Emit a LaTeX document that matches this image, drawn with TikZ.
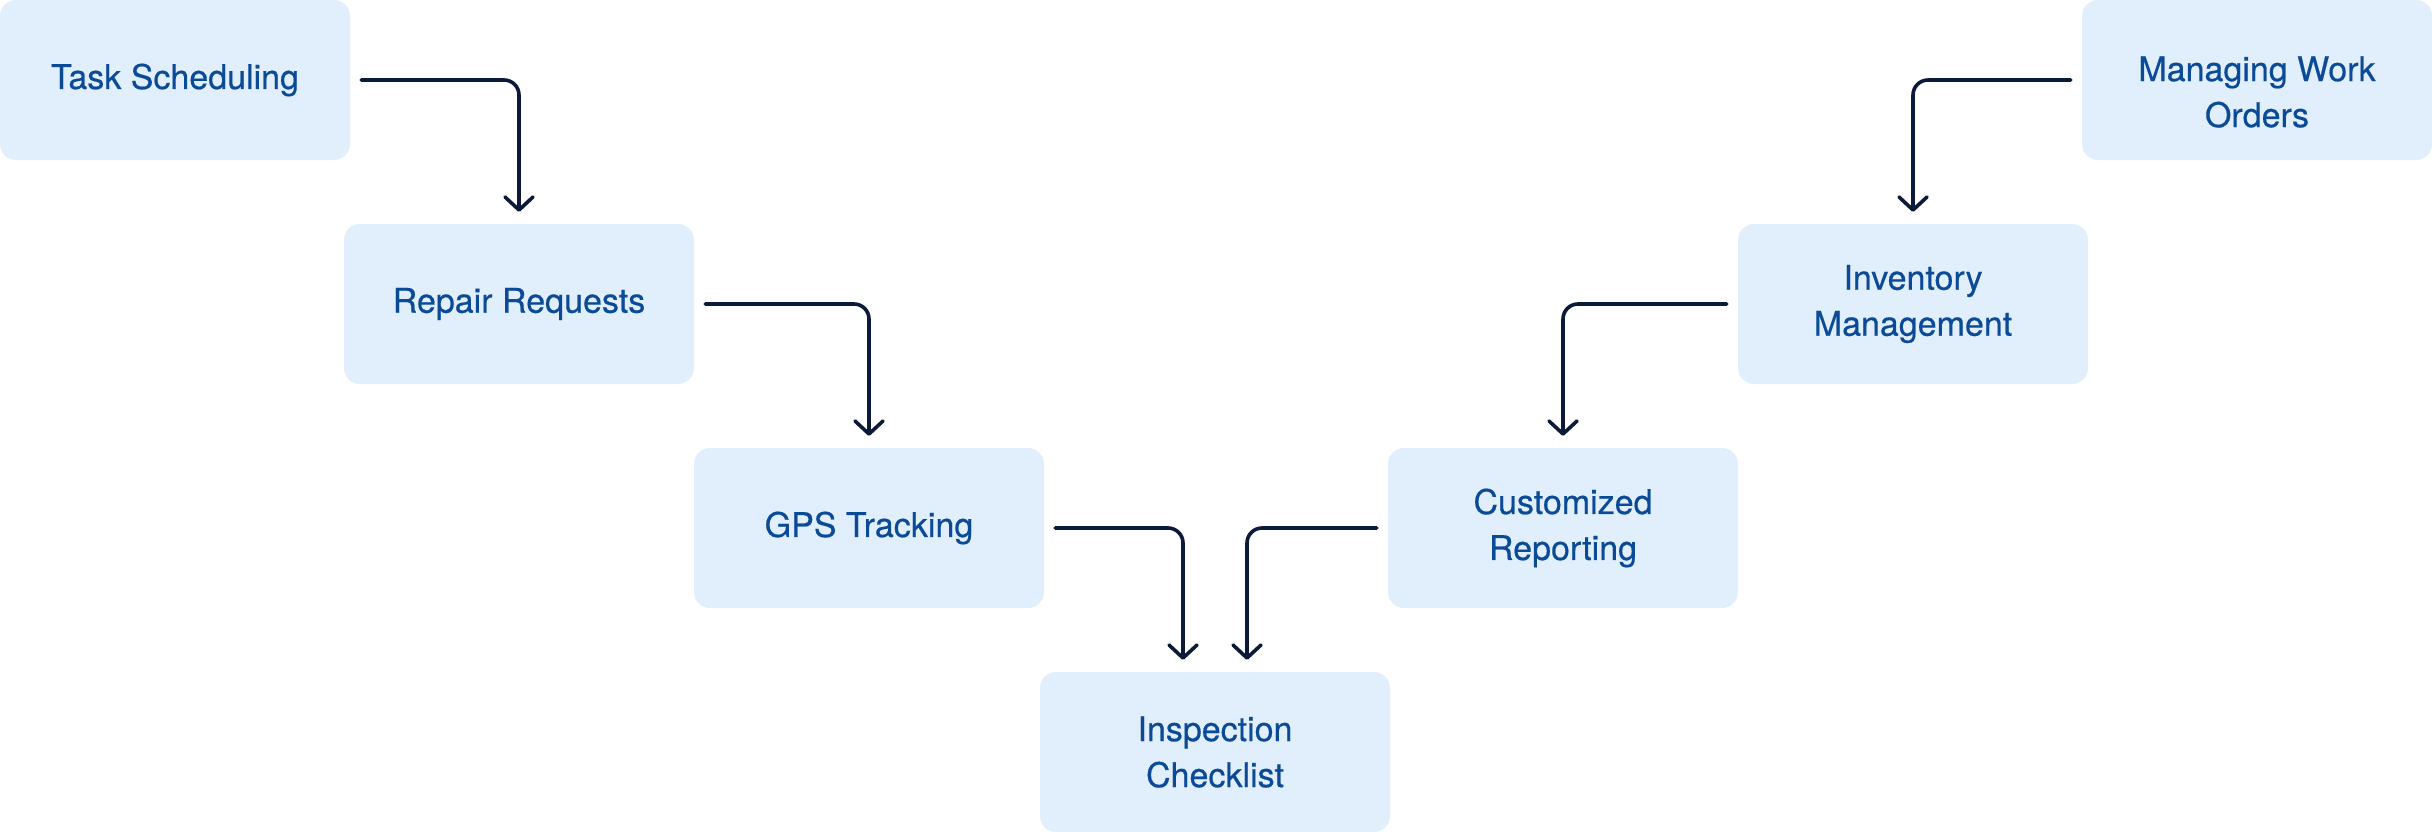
\documentclass[tikz,border=0pt]{standalone}
\usepackage{fontspec}
\setmainfont{TeX Gyre Heros}[FakeBold=0.5]
\usetikzlibrary{arrows.meta}
\definecolor{boxfill}{HTML}{E1EFFD}
\definecolor{textblue}{HTML}{0B4A96}
\definecolor{linenavy}{HTML}{0C1A3A}
\tikzset{
  stepbox/.style={rectangle, rounded corners=16pt, fill=boxfill, draw=none,
    minimum width=350pt, minimum height=160pt, inner sep=0pt, align=center,
    text=textblue, font=\fontsize{34}{46}\selectfont},
  conn/.style={draw=linenavy, line width=3.6pt, rounded corners=15pt, line cap=round,
    -{Straight Barb[length=13pt,width=28pt,line width=3.6pt,line cap=round,line join=round]}}
}
\begin{document}
\begin{tikzpicture}[x=1pt,y=-1pt]
\useasboundingbox[fill=white] (0,0) rectangle (2432,832);
\node[stepbox] (ts) at (175,80) {Task Scheduling};
\node[stepbox] (rr) at (519,304) {Repair Requests};
\node[stepbox] (gps) at (869,528) {GPS Tracking};
\node[stepbox] (ic) at (1215,752) {Inspection\\Checklist};
\node[stepbox] (cr) at (1563,528) {Customized\\Reporting};
\node[stepbox] (im) at (1913,304) {Inventory\\Management};
\node[stepbox] (mw) at (2257,80) {};
\node[align=center, text=textblue, font=\fontsize{34}{46}\selectfont, inner sep=0pt] (mwt) at (2257,92) {Managing Work\\Orders};
\draw[conn] ([xshift=11pt]ts.east) -| ([yshift=12pt]rr.north);
\draw[conn] ([xshift=11pt]rr.east) -| ([yshift=12pt]gps.north);
\draw[conn] ([xshift=11pt]gps.east) -| ([xshift=-32pt,yshift=12pt]ic.north);
\draw[conn] ([xshift=-11pt]cr.west) -| ([xshift=32pt,yshift=12pt]ic.north);
\draw[conn] ([xshift=-11pt]im.west) -| ([yshift=12pt]cr.north);
\draw[conn] ([xshift=-11pt]mw.west) -| ([yshift=12pt]im.north);
\end{tikzpicture}
\end{document}
